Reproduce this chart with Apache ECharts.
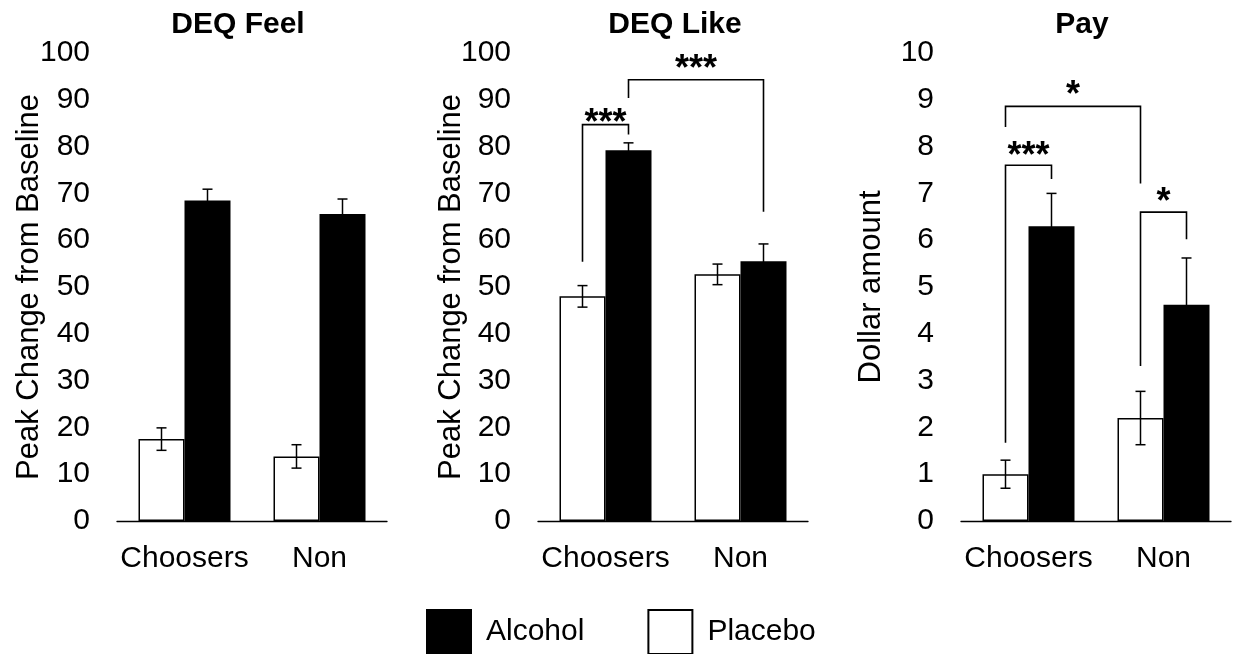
<!DOCTYPE html>
<html><head><meta charset="utf-8">
<script src="https://cdn.jsdelivr.net/npm/echarts@6/dist/echarts.min.js"></script>
<style>html,body{margin:0;padding:0;background:#fff}#c{width:1235px;height:654px}</style>
</head><body><div id="c"></div>
<script>
// ---------- data ----------
const categories = ['Choosers', 'Non'];
const panelTitles = ['DEQ Feel', 'DEQ Like', 'Pay'];
const yNames = ['Peak Change from Baseline', 'Peak Change from Baseline', 'Dollar amount'];
const yMax = [100, 100, 10];
const yInterval = [10, 10, 1];

const feelPlacebo = [17.5, 13.8];
const feelPlaceboErr = [2.4, 2.5];
const feelAlcohol = [68.5, 65.6];
const feelAlcoholErr = [2.4, 3.2];

const likePlacebo = [48.0, 52.7];
const likePlaceboErr = [2.3, 2.2];
const likeAlcohol = [79.2, 55.5];
const likeAlcoholErr = [1.6, 3.7];

const payPlacebo = [1.0, 2.2];
const payPlaceboErr = [0.3, 0.57];
const payAlcohol = [6.3, 4.62];
const payAlcoholErr = [0.7, 1.0];

// brackets: [leftCat, leftSide(-1 placebo / 1 alcohol), leftBottom, rightCat, rightSide, rightBottom, top, starsLevel]
const feelBrackets = [];
const feelStars = [];
const likeBrackets = [[0, -1, 55.4, 0, 1, 82.6, 84.7, 86.0], [0, 1, 90.4, 1, 1, 66.1, 94.3, 97.6]];
const likeStars = ['***', '***'];
const payBrackets = [[0, -1, 1.67, 0, 1, 7.31, 7.6, 7.91], [0, -1, 8.42, 1, -1, 7.21, 8.86, 9.21], [1, -1, 3.31, 1, 1, 6.02, 6.6, 6.92]];
const payStars = ['***', '*', '*'];

// ---------- layout / style ----------
const FONT = "'Liberation Sans', Arial, sans-serif";
const FS = 30;
const BAR_W = 46, HALF = BAR_W / 2, CAP = 5;
const gridLefts = [117, 538, 961];
const titleX = [238, 675, 1082];
const nameGaps = [72, 71, 74];

const panels = [
  {p: feelPlacebo, pe: feelPlaceboErr, a: feelAlcohol, ae: feelAlcoholErr, br: feelBrackets, st: feelStars},
  {p: likePlacebo, pe: likePlaceboErr, a: likeAlcohol, ae: likeAlcoholErr, br: likeBrackets, st: likeStars},
  {p: payPlacebo, pe: payPlaceboErr, a: payAlcohol, ae: payAlcoholErr, br: payBrackets, st: payStars}
];

function errRender(params, api) {
  const cat = api.value(0), mean = api.value(1), err = api.value(2), side = api.value(3);
  const t = api.coord([cat, mean + err]), b = api.coord([cat, mean - err]);
  const x = t[0] + side * HALF;
  const st = {stroke: '#000', lineWidth: 1.5};
  return {type: 'group', children: [
    {type: 'line', shape: {x1: x, y1: t[1], x2: x, y2: b[1]}, style: st},
    {type: 'line', shape: {x1: x - CAP, y1: t[1], x2: x + CAP, y2: t[1]}, style: st},
    {type: 'line', shape: {x1: x - CAP, y1: b[1], x2: x + CAP, y2: b[1]}, style: st}
  ]};
}

function bracketRender(stars) {
  return function (params, api) {
    const i = params.dataIndex;
    const lc = api.value(0), ls = api.value(1), lb = api.value(2);
    const rc = api.value(3), rs = api.value(4), rb = api.value(5), top = api.value(6), sl = api.value(7);
    const L = api.coord([lc, lb]), T = api.coord([lc, top]), R = api.coord([rc, rb]), S = api.coord([lc, sl]);
    const xl = L[0] + ls * HALF, xr = R[0] + rs * HALF;
    return {type: 'group', children: [
      {type: 'polyline', shape: {points: [[xl, L[1]], [xl, T[1]], [xr, T[1]], [xr, R[1]]]},
       style: {stroke: '#000', fill: null, lineWidth: 1.6}},
      {type: 'text', x: (xl + xr) / 2, y: S[1] + 6,
       style: {text: stars[i], align: 'center', verticalAlign: 'middle',
               fontSize: 36, fontFamily: FONT, fontWeight: 'bold', fill: '#000'}}
    ]};
  };
}

const grid = [], xAxis = [], yAxis = [], series = [], graphic = [];
panels.forEach((pn, k) => {
  grid.push({left: gridLefts[k], width: 270, top: 53, height: 468});
  xAxis.push({type: 'category', gridIndex: k, data: categories,
    axisLine: {lineStyle: {color: '#000', width: 1.3}}, axisTick: {show: false},
    axisLabel: {color: '#000', fontSize: FS, fontFamily: FONT, margin: 23, interval: 0}});
  yAxis.push({type: 'value', gridIndex: k, min: 0, max: yMax[k], interval: yInterval[k],
    name: yNames[k], nameLocation: 'middle', nameGap: nameGaps[k], nameMoveOverlap: false,
    nameTextStyle: {color: '#000', fontSize: 31, fontFamily: FONT},
    axisLine: {show: false}, axisTick: {show: false}, splitLine: {show: false},
    axisLabel: {color: '#000', fontSize: FS, fontFamily: FONT, margin: 27}});
  series.push({name: 'Placebo', type: 'bar', xAxisIndex: k, yAxisIndex: k, data: pn.p,
    barWidth: BAR_W, barGap: '0%',
    itemStyle: {color: '#fff', borderColor: '#000', borderWidth: 1.5}});
  series.push({name: 'Alcohol', type: 'bar', xAxisIndex: k, yAxisIndex: k, data: pn.a,
    barWidth: BAR_W, barGap: '0%',
    itemStyle: {color: '#000', borderColor: '#000', borderWidth: 1.5}});
  const errData = [];
  categories.forEach((c, i) => {
    errData.push([i, pn.p[i], pn.pe[i], -1]);
    errData.push([i, pn.a[i], pn.ae[i], 1]);
  });
  series.push({type: 'custom', xAxisIndex: k, yAxisIndex: k, data: errData,
    renderItem: errRender, z: 5, clip: false, silent: true});
  if (pn.br.length) {
    series.push({type: 'custom', xAxisIndex: k, yAxisIndex: k, data: pn.br,
      renderItem: bracketRender(pn.st), z: 6, clip: false, silent: true});
  }
  graphic.push({type: 'text', x: titleX[k], y: 25,
    style: {text: panelTitles[k], align: 'center', verticalAlign: 'middle',
            fontSize: 30, fontWeight: 'bold', fontFamily: FONT, fill: '#000'}});
});

const chart = echarts.init(document.getElementById('c'));
chart.setOption({
  animation: false,
  backgroundColor: '#fff',
  grid, xAxis, yAxis, series, graphic,
  legend: {left: 421, top: 604, itemWidth: 44, itemHeight: 44, itemGap: 63,
    selectedMode: false,
    data: [{name: 'Alcohol', icon: 'rect'}, {name: 'Placebo', icon: 'rect'}],
    textStyle: {color: '#000', fontSize: 30, fontFamily: FONT, padding: [0, 0, 0, 10]}}
});
</script></body></html>
